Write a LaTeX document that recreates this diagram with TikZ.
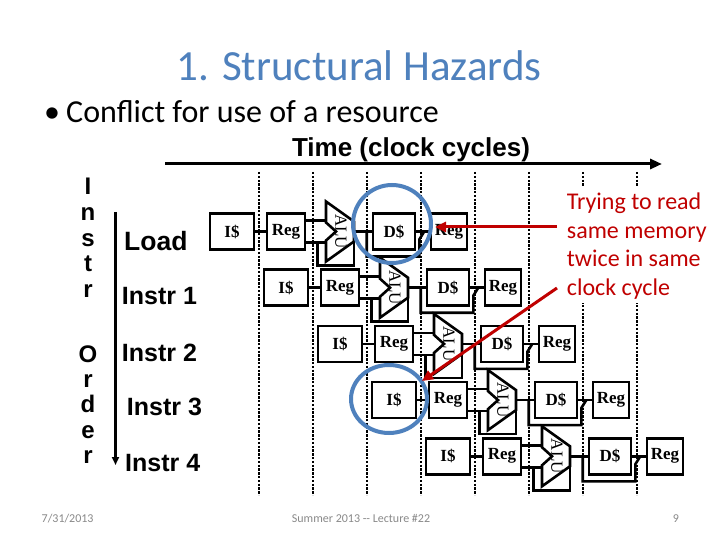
\documentclass[tikz,border=0pt]{standalone}
\usepackage{fontspec}
\setmainfont{Carlito}
\newfontfamily\arialf{Liberation Sans}
\newfontfamily\timesf{Liberation Serif}
\usetikzlibrary{calc,arrows.meta}
\definecolor{titleblue}{RGB}{79,129,189}
\definecolor{circblue}{RGB}{79,129,189}
\definecolor{notered}{RGB}{192,0,0}
\definecolor{footgray}{RGB}{137,137,137}
\begin{document}
\begin{tikzpicture}[x=1pt,y=-1pt,line join=miter,
  box/.style={draw, fill=white, line width=2.6pt, minimum height=36pt, inner sep=0pt,
    font=\timesf\bfseries\fontsize{17}{17}\selectfont},
  wire/.style={line width=2.6pt},
  alubox/.style={minimum width=28pt, minimum height=60pt, inner sep=0pt, outer sep=0pt},
  alutext/.style={rotate=-90, inner sep=0pt, font=\timesf\fontsize{17}{17}\selectfont},
  grid/.style={line width=2.6pt, dash pattern=on 2.4pt off 1.4pt},
  vlet/.style={anchor=base, inner sep=0pt, font=\arialf\bfseries\fontsize{24}{24}\selectfont},
  ilab/.style={anchor=base west, inner sep=0pt, font=\arialf\bfseries\fontsize{25}{25}\selectfont},
  notetext/.style={anchor=base west, inner sep=0pt, text=notered, font=\fontsize{24}{24}\selectfont},
  foot/.style={inner sep=0pt, text=footgray, font=\fontsize{12}{12}\selectfont},
  redarrow/.style={notered, line width=3pt, -{Triangle[length=11pt,width=10pt]}},
  ring/.style={circblue, line width=4pt}]
\fill[white] (0,0) rectangle (720,540);
\useasboundingbox (0,0) rectangle (720,540);

% title and bullet
\node[anchor=base, inner sep=0pt, text=titleblue, font=\fontsize{43}{43}\selectfont] (title) at (359,81) {1. Structural Hazards};
\node[anchor=base west, inner sep=0pt, font=\fontsize{32}{32}\selectfont] (bul) at (44,123) {•};
\node[anchor=base west, inner sep=0pt, font=\fontsize{32}{32}\selectfont] (bultext) at (66,123) {Conflict for use of a resource};

% time axis
\node[anchor=base, inner sep=0pt, font=\arialf\bfseries\fontsize{26}{26}\selectfont] (time) at (411,157) {Time (clock cycles)};
\coordinate (t0) at (165,164);
\coordinate (t1) at (662,164);
\draw[line width=3pt, -{Triangle[length=12pt,width=10pt]}] (t0) -- (t1);

% clock cycle grid
\foreach \k in {0,...,7}{
  \draw[grid] (259+54*\k,172) -- (259+54*\k,495);
}

% instruction order
\foreach \ch/\yy [count=\n] in {I/195,n/220.5,s/246,t/271.5,r/297,O/362,r/387,d/412.5,e/438,r/463}{
  \node[vlet] (v\n) at (88,\yy) {\ch};
}
\coordinate (o0) at (115.5,212);
\coordinate (o1) at (115.5,465);
\draw[line width=3pt, -{Triangle[length=8pt,width=7pt]}] (o0) -- (o1);
\node[ilab, font=\arialf\bfseries\fontsize{26.5}{26.5}\selectfont] (l0) at (124,251) {Load};
\node[ilab] (l1) at (121.7,304) {Instr 1};
\node[ilab] (l2) at (121.7,361.7) {Instr 2};
\node[ilab] (l3) at (126.7,415) {Instr 3};
\node[ilab] (l4) at (125,471.7) {Instr 4};

% pipeline rows
\foreach \r in {0,...,4}{
  \pgfmathsetmacro{\xo}{210+54*\r}
  \pgfmathsetmacro{\yc}{231.5+56.2*\r}
  \node[box, minimum width=44pt] (i\r) at (\xo+22,\yc) {I\$};
  \node[box, minimum width=38pt] (r\r) at (\xo+76,\yc) {Reg};
  \node[alubox] (a\r) at (\xo+130,\yc) {};
  \node[box, minimum width=42pt] (d\r) at (\xo+184,\yc) {D\$};
  \node[box, minimum width=36pt] (w\r) at (\xo+239,\yc) {Reg};
  \draw[wire] (i\r.east) -- (r\r.west);
  \draw[wire] ([yshift=11pt]r\r.east) -- ([yshift=11pt]a\r.west);
  \draw[wire] ([yshift=-11pt]r\r.east) -- ([yshift=-11pt]a\r.west);
  \draw[wire] ([xshift=11pt,yshift=-11pt]r\r.east) -- ++(0,23) -| ([yshift=-10pt]a\r.east);
  \draw[wire] (a\r.east) -- (d\r.west);
  \draw[wire] ([xshift=-5pt]d\r.west) -- ++(0,25) -| ([xshift=3pt,yshift=-8pt]d\r.east) -- ([xshift=8pt]d\r.east);
  \draw[wire] (d\r.east) -- (w\r.west);
  \draw[wire, fill=white] (a\r.north west) -- ([yshift=-20pt]a\r.north east) -- ([yshift=20pt]a\r.south east)
     -- (a\r.south west) -- ([yshift=-9pt]a\r.west) -- ([xshift=10pt]a\r.west) -- ([yshift=9pt]a\r.west) -- cycle;
  \node[alutext] (al\r) at ([xshift=1pt]a\r.center) {ALU};
}

% highlight rings
\draw[ring] (392,224) ellipse[x radius=39, y radius=39];
\draw[ring] (389,399) ellipse[x radius=38, y radius=34];

% note (white text box) and arrows
\fill[white] (558,187) rectangle (712,303);
\node[notetext] (n1) at (566.7,210) {Trying to read};
\node[notetext] (n2) at (566.7,238.4) {same memory};
\node[notetext] (n3) at (566.7,266.8) {twice in same};
\node[notetext] (n4) at (566.7,295.2) {clock cycle};
\coordinate (s1) at (557,227);
\coordinate (e1) at (435,227);
\coordinate (s2) at (557,288);
\coordinate (e2) at (422,381);
\draw[redarrow] (s1) -- (e1);
\draw[redarrow] (s2) -- (e2);

% footer
\node[foot, anchor=base west] (f1) at (41.5,522) {7/31/2013};
\node[foot, anchor=base] (f2) at (361,522) {Summer 2013 {-}{-} Lecture \#22};
\node[foot, anchor=base] (f3) at (676,522) {9};
\end{tikzpicture}
\end{document}
